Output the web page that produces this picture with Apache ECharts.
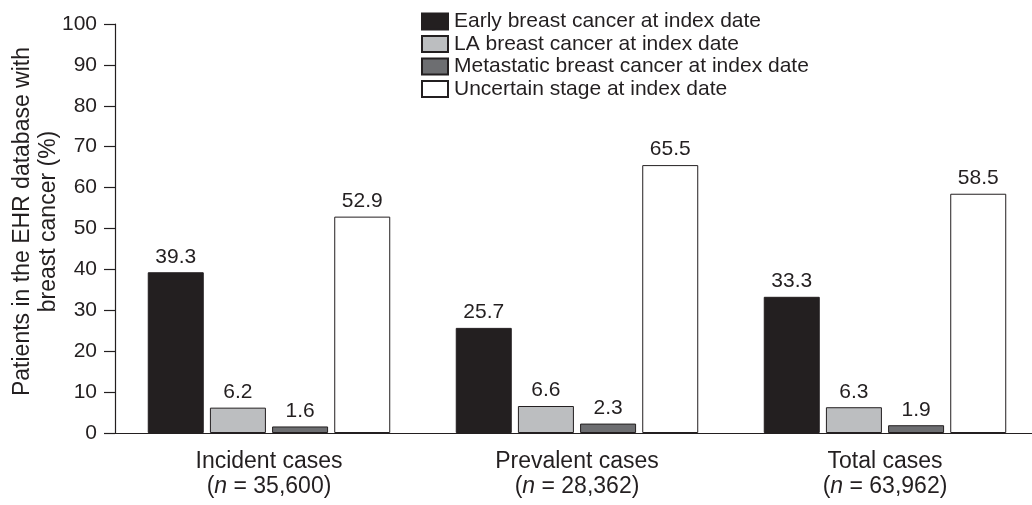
<!DOCTYPE html>
<html>
<head>
<meta charset="utf-8">
<script src="https://cdn.jsdelivr.net/npm/echarts@6/dist/echarts.min.js"></script>
<style>
html,body{margin:0;padding:0;background:#fff;}
#chart{width:1032px;height:505px;}
</style>
</head>
<body>
<div id="chart"></div>
<script>
const categories = ['Incident cases', 'Prevalent cases', 'Total cases'];
const categoryN = ['35,600', '28,362', '63,962'];
const seriesNames = [
  'Early breast cancer at index date',
  'LA breast cancer at index date',
  'Metastatic breast cancer at index date',
  'Uncertain stage at index date'
];
const earlyValues = [39.3, 25.7, 33.3];
const laValues = [6.2, 6.6, 6.3];
const metastaticValues = [1.6, 2.3, 1.9];
const uncertainValues = [52.9, 65.5, 58.5];
const yTicks = [0, 10, 20, 30, 40, 50, 60, 70, 80, 90, 100];

const FONT = 'Liberation Sans';
const TXT = '#231f20';
const fills = ['#231f20', '#bcbec0', '#6d6e71', '#ffffff'];
const allValues = [earlyValues, laValues, metastaticValues, uncertainValues];

const chart = echarts.init(document.getElementById('chart'));
chart.setOption({
  animation: false,
  textStyle: { fontFamily: FONT, color: TXT },
  legend: {
    orient: 'vertical',
    left: 416,
    top: 6,
    itemWidth: 26,
    itemHeight: 16,
    itemGap: 1.5,
    icon: 'rect',
    textStyle: { fontFamily: FONT, fontSize: 21, color: TXT, padding: [0, 0, 0, 1] },
    data: seriesNames
  },
  grid: { left: 115, top: 24, width: 924, height: 409, containLabel: false, outerBoundsMode: 'none' },
  xAxis: {
    type: 'category',
    data: categories,
    axisLine: { lineStyle: { color: TXT, width: 1.2 } },
    axisTick: { show: false },
    axisLabel: {
      margin: 16,
      interval: 0,
      formatter: function (v, i) {
        return '{a|' + v + '}\n{a|(}{i|n}{a| = ' + categoryN[i] + ')}';
      },
      rich: {
        a: { fontFamily: FONT, fontSize: 23, color: TXT, lineHeight: 25 },
        i: { fontFamily: FONT, fontSize: 23, color: TXT, fontStyle: 'italic', lineHeight: 25 }
      }
    }
  },
  yAxis: {
    type: 'value',
    min: 0,
    max: 100,
    interval: 10,
    name: 'Patients in the EHR database with\nbreast cancer (%)',
    nameLocation: 'middle',
    nameRotate: 90,
    nameGap: 53,
    nameMoveOverlap: false,
    nameTextStyle: { fontFamily: FONT, fontSize: 23, color: TXT, lineHeight: 26, padding: [0, 0, 0, 14] },
    axisLine: { show: true, lineStyle: { color: TXT, width: 1.2 } },
    axisTick: { show: true, inside: false, length: 11, lineStyle: { color: TXT, width: 1.2 } },
    splitLine: { show: false },
    axisLabel: {
      margin: 18,
      fontFamily: FONT,
      fontSize: 21,
      color: TXT,
      formatter: function (v) { return yTicks.indexOf(v) >= 0 ? String(v) : ''; }
    }
  },
  series: seriesNames.map(function (name, k) {
    return {
      name: name,
      type: 'bar',
      data: allValues[k],
      barWidth: 56,
      barGap: '11%',
      itemStyle: { color: fills[k], borderColor: TXT, borderWidth: 1 },
      label: {
        show: true,
        position: 'top',
        distance: 5,
        fontFamily: FONT,
        fontSize: 21,
        color: TXT,
        formatter: function (p) { return p.value.toFixed(1); }
      }
    };
  })
});
</script>
</body>
</html>
